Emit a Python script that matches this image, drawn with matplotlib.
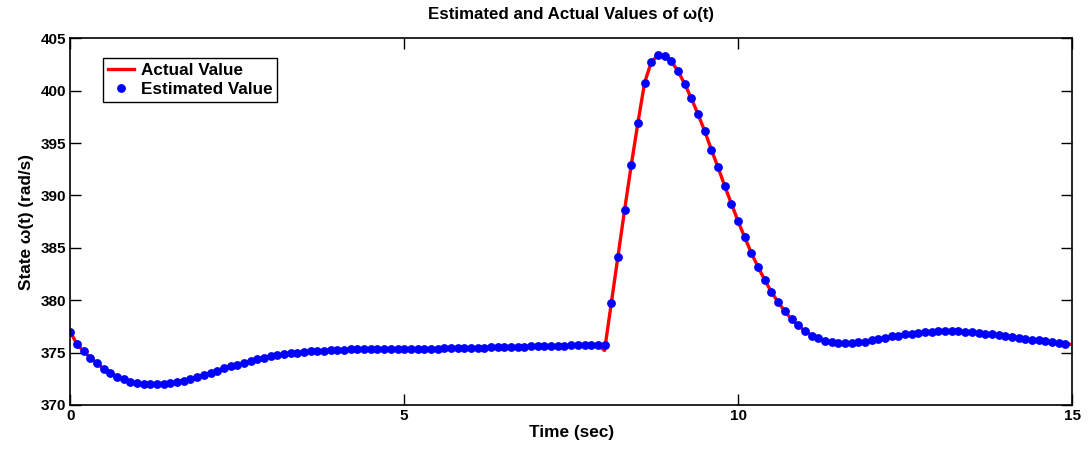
import numpy as np
import matplotlib.pyplot as plt

plt.rcParams['font.family'] = ['Liberation Sans', 'DejaVu Sans']
plt.rcParams['font.weight'] = 'bold'

# estimated omega(t), one sample every 0.1 s from t = 0.0 to 14.9
estimated = [
    377.00, 375.80, 375.13, 374.50, 374.00, 373.44, 373.06, 372.72, 372.46, 372.24,  # 0.0
    372.10, 371.98, 371.98, 371.98, 372.00, 372.12, 372.20, 372.33, 372.49, 372.68,  # 1.0
    372.87, 373.06, 373.29, 373.51, 373.70, 373.84, 374.00, 374.18, 374.37, 374.53,  # 2.0
    374.68, 374.78, 374.87, 374.94, 375.00, 375.07, 375.13, 375.16, 375.20, 375.23,  # 3.0
    375.28, 375.29, 375.30, 375.31, 375.31, 375.32, 375.32, 375.33, 375.33, 375.33,  # 4.0
    375.34, 375.35, 375.36, 375.37, 375.38, 375.39, 375.40, 375.41, 375.42, 375.43,  # 5.0
    375.44, 375.46, 375.48, 375.50, 375.52, 375.54, 375.55, 375.57, 375.58, 375.60,  # 6.0
    375.61, 375.63, 375.64, 375.66, 375.67, 375.69, 375.70, 375.72, 375.74, 375.76,  # 7.0
    375.77, 379.69, 384.14, 388.60, 392.90, 396.94, 400.76, 402.74, 403.40, 403.34,  # 8.0
    402.80, 401.88, 400.64, 399.27, 397.74, 396.15, 394.36, 392.68, 390.89, 389.20,  # 9.0
    387.53, 385.99, 384.49, 383.16, 381.92, 380.77, 379.81, 378.95, 378.19, 377.59,  # 10.0
    377.07, 376.63, 376.38, 376.12, 376.00, 375.93, 375.93, 375.93, 376.00, 376.05,  # 11.0
    376.18, 376.28, 376.41, 376.54, 376.63, 376.76, 376.80, 376.88, 376.95, 376.98,  # 12.0
    377.05, 377.07, 377.07, 377.02, 376.98, 376.92, 376.86, 376.82, 376.73, 376.65,  # 13.0
    376.60, 376.50, 376.41, 376.32, 376.25, 376.18, 376.09, 376.00, 375.93, 375.85,  # 14.0
]
t_est = np.arange(len(estimated)) * 0.1

# actual omega(t): same samples, but dips at t = 8.0 and runs on to t = 15.0
actual = list(estimated)
actual[80] = 375.20
actual.append(375.78)
t_act = np.arange(len(actual)) * 0.1

fig = plt.figure(figsize=(10.88, 4.49), dpi=100)
ax = fig.add_axes([0.0646, 0.098, 0.9207, 0.8167])

ax.plot(t_act, actual, color='red', linewidth=2.4, label='Actual Value')
ax.plot(t_est, estimated, linestyle='none', marker='o', markersize=5.3,
        color='blue', label='Estimated Value')

ax.set_xlim(0, 15)
ax.set_ylim(370, 405)
ax.set_xticks([0, 5, 10, 15])
ax.set_yticks(np.arange(370, 406, 5))
ax.tick_params(direction='in', length=8, width=1, top=True, right=True,
               labelsize=11, pad=3)
for lbl in ax.get_xticklabels() + ax.get_yticklabels():
    lbl.set_fontweight('bold')
for sp in ax.spines.values():
    sp.set_linewidth(1.2)

ax.set_title('Estimated and Actual Values of \u03c9(t)', fontsize=12.2,
             fontweight='bold', pad=14)
ax.set_xlabel('Time (sec)', fontsize=12.4, fontweight='bold', labelpad=1)
ax.set_ylabel('State \u03c9(t) (rad/s)', fontsize=12.4, fontweight='bold', labelpad=5)

leg = ax.legend(loc='upper left', bbox_to_anchor=(0.0326, 0.946),
                borderaxespad=0, fancybox=False, framealpha=1,
                edgecolor='black', handlelength=1.5,
                handletextpad=0.4, borderpad=0.3, labelspacing=0.2,
                prop={'weight': 'bold', 'size': 12.3})
leg.get_frame().set_linewidth(1.0)

fig.savefig('out.png', dpi=100)
